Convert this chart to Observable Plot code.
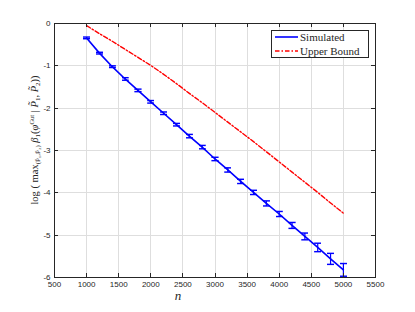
<!DOCTYPE html>
<html>
<head>
<meta charset="utf-8">
<script src="https://cdn.jsdelivr.net/npm/d3@7"></script>
<script src="https://cdn.jsdelivr.net/npm/@observablehq/plot@0.6"></script>
<style>
  html, body { margin: 0; padding: 0; background: #fff; }
  #chart { position: relative; width: 415px; height: 312px; }
</style>
</head>
<body>
<div id="chart"></div>
<script>
// ---- data ----
const nValues = [1000,1200,1400,1600,1800,2000,2200,2400,2600,2800,3000,3200,3400,3600,3800,4000,4200,4400,4600,4800,5000];
const simulated = [-0.34,-0.70,-1.02,-1.31,-1.58,-1.85,-2.12,-2.39,-2.66,-2.92,-3.20,-3.46,-3.73,-3.99,-4.25,-4.50,-4.77,-5.03,-5.29,-5.56,-5.82];
const simErr = [0.02,0.02,0.02,0.03,0.03,0.03,0.03,0.03,0.04,0.04,0.04,0.05,0.05,0.05,0.06,0.06,0.07,0.08,0.10,0.13,0.15];
const upperBound = [-0.05,-0.24,-0.42,-0.61,-0.80,-0.99,-1.20,-1.42,-1.65,-1.87,-2.10,-2.33,-2.56,-2.79,-3.03,-3.27,-3.51,-3.75,-3.99,-4.24,-4.48];
const xTicks = [500,1000,1500,2000,2500,3000,3500,4000,4500,5000,5500];
const yTicks = [0,-1,-2,-3,-4,-5,-6];
const seriesNames = ["Simulated", "Upper Bound"];

const sim = nValues.map((n, i) => ({n, v: simulated[i], e: simErr[i]}));
const ub = nValues.map((n, i) => ({n, v: upperBound[i]}));

const W = 415, H = 312, mL = 54, mR = 40, mT = 23, mB = 35, tickLen = 4;
const axisColor = "#262626";
const gridColor = "#dedede";
const fontTick = "Liberation Sans, Arial, sans-serif";

const svg = Plot.plot({
  width: W,
  height: H,
  marginLeft: mL,
  marginRight: mR,
  marginTop: mT,
  marginBottom: mB,
  style: {background: "#fff", fontFamily: fontTick, fontSize: "8px", color: axisColor},
  x: {domain: [500, 5500]},
  y: {domain: [-6, 0]},
  marks: [
    Plot.line(ub, {x: "n", y: "v", stroke: "#ff0000", strokeWidth: 1.4, strokeDasharray: "4.5,2,1.5,2"}),
    Plot.line(sim, {x: "n", y: "v", stroke: "#0000ff", strokeWidth: 1.6}),
    Plot.link(sim, {x1: "n", x2: "n", y1: d => d.v - d.e, y2: d => d.v + d.e, stroke: "#0000ff", strokeWidth: 1.2, markerStart: "tick", markerEnd: "tick"}),
    Plot.frame({stroke: axisColor, strokeWidth: 1}),
    Plot.axisX(xTicks, {anchor: "bottom", tickSize: 0, tickPadding: 4, tickFormat: d => String(d), label: null, fill: axisColor}),
    Plot.axisY(yTicks, {anchor: "left", tickSize: 0, tickPadding: 4, tickFormat: d => String(d), label: null, fill: axisColor})
  ]
});

const s = d3.select(svg);
const sx = svg.scale("x"), sy = svg.scale("y");
const px = v => Math.round(sx.apply(v)) + 0.5;
const py = v => Math.round(sy.apply(v)) + 0.5;
const frameTop = mT, frameBottom = H - mB, frameLeft = mL, frameRight = W - mR;

// grid (beneath the data marks)
const grid = s.insert("g", "g").attr("stroke", gridColor).attr("stroke-width", 1);
xTicks.forEach(t => grid.append("line").attr("x1", px(t)).attr("x2", px(t)).attr("y1", frameTop).attr("y2", frameBottom).attr("stroke", gridColor));
yTicks.forEach(t => grid.append("line").attr("y1", py(t)).attr("y2", py(t)).attr("x1", frameLeft).attr("x2", frameRight).attr("stroke", gridColor));

// inward tick marks on all four sides
const tk = s.append("g").attr("stroke", axisColor).attr("stroke-width", 1);
xTicks.forEach(t => {
  tk.append("line").attr("x1", px(t)).attr("x2", px(t)).attr("y1", frameBottom).attr("y2", frameBottom - tickLen).attr("stroke", axisColor);
  tk.append("line").attr("x1", px(t)).attr("x2", px(t)).attr("y1", frameTop).attr("y2", frameTop + tickLen).attr("stroke", axisColor);
});
yTicks.forEach(t => {
  tk.append("line").attr("y1", py(t)).attr("y2", py(t)).attr("x1", frameLeft).attr("x2", frameLeft + tickLen).attr("stroke", axisColor);
  tk.append("line").attr("y1", py(t)).attr("y2", py(t)).attr("x1", frameRight).attr("x2", frameRight - tickLen).attr("stroke", axisColor);
});

const serif = "Liberation Serif, Times New Roman, serif";

// x label
s.append("text").attr("x", 178).attr("y", 300).attr("text-anchor", "middle")
  .attr("font-family", serif).attr("font-style", "italic").attr("font-size", 13).attr("fill", axisColor).text("n");

// y label
const yl = s.append("text").attr("transform", "translate(38,140) rotate(-90)")
  .attr("text-anchor", "middle").attr("font-family", serif).attr("font-size", 10.5).attr("fill", axisColor);
yl.append("tspan").text("log ( max");
yl.append("tspan").attr("font-size", 7).attr("dy", 2).text("(P\u0303\u2081,P\u0303\u2082)");
yl.append("tspan").attr("dy", -2).attr("font-style", "italic").text(" \u03B2");
yl.append("tspan").attr("font-size", 7).attr("dy", 2).text("1");
yl.append("tspan").attr("dy", -2).text("(");
yl.append("tspan").attr("font-style", "italic").text("\u03C6");
yl.append("tspan").attr("font-size", 6.5).attr("dy", -4).text("Gut");
yl.append("tspan").attr("dy", 4).text(" | ");
yl.append("tspan").attr("font-style", "italic").text("P\u0303");
yl.append("tspan").attr("font-size", 7).attr("dy", 2).text("1");
yl.append("tspan").attr("dy", -2).text(", ");
yl.append("tspan").attr("font-style", "italic").text("P\u0303");
yl.append("tspan").attr("font-size", 7).attr("dy", 2).text("2");
yl.append("tspan").attr("dy", -2).text("))");

// legend
const lg = s.append("g").attr("text-anchor", "start");
lg.append("rect").attr("x", 271.5).attr("y", 30.5).attr("width", 97).attr("height", 27)
  .attr("fill", "#ffffff").attr("stroke", axisColor).attr("stroke-width", 1);
lg.append("line").attr("x1", 275).attr("x2", 298).attr("y1", 37).attr("y2", 37)
  .attr("stroke", "#0000ff").attr("stroke-width", 1.6);
lg.append("line").attr("x1", 275).attr("x2", 298).attr("y1", 51).attr("y2", 51)
  .attr("stroke", "#ff0000").attr("stroke-width", 1.4).attr("stroke-dasharray", "4.5,2,1.5,2");
lg.append("text").attr("x", 300).attr("y", 40.5).attr("text-anchor", "start").attr("font-family", serif).attr("font-size", 11).attr("fill", axisColor).text(seriesNames[0]);
lg.append("text").attr("x", 300).attr("y", 54.5).attr("text-anchor", "start").attr("font-family", serif).attr("font-size", 11).attr("fill", axisColor).text(seriesNames[1]);

document.getElementById("chart").appendChild(svg);
</script>
</body>
</html>
